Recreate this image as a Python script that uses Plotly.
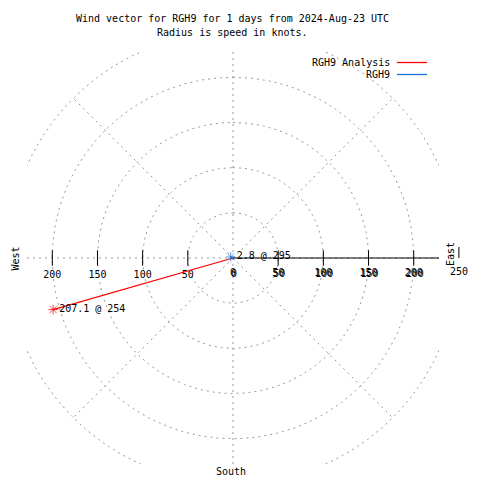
import numpy as np
import plotly.graph_objects as go

# ---- data ----
series_names = ["RGH9 Analysis", "RGH9"]
series_colors = ["#ff0000", "#1a75d8"]
speeds = [207.1, 2.8]          # knots
directions = [254, 295]        # degrees, compass
grid_radii = [50, 100, 150, 200, 250]
grid_angles = [0, 45, 90, 135, 180, 225, 270, 315]
left_ticks = [200, 150, 100, 50]
right_ticks = [0, 50, 100, 150, 200]
outer_tick = 250
title_lines = ["Wind vector for RGH9 for 1 days from 2024-Aug-23 UTC",
               "Radius is speed in knots."]

# ---- layout geometry (page pixels; page body has an 8px margin) ----
OFF = 8
W = H = 480 - OFF
L, R, T, B = 27, 439, 52, 464
RMAX = 228
scale = (R - L) / 2 / RMAX          # px per knot
CX, CY = (L + R) / 2, (T + B) / 2
FONT = "DejaVu Sans Mono"
GRID = "#999999"

def xp(px):
    return (px - L) / (R - L)

def yp(py):
    return (B - py) / (B - T)

fig = go.Figure()

# grid circles
theta = np.linspace(0, 2 * np.pi, 721)
cx, cy = [], []
for r in grid_radii:
    cx += list(r * np.sin(theta)) + [None]
    cy += list(r * np.cos(theta)) + [None]
fig.add_trace(go.Scatter(x=cx, y=cy, mode="lines",
                         line=dict(color=GRID, width=1, dash="2px,4px"),
                         hoverinfo="skip"))
# radial grid lines (up to outer circle)
rmax_grid = max(grid_radii)
rx, ry = [], []
for a in grid_angles:
    ar = np.radians(a)
    rx += [0, rmax_grid * np.sin(ar), None]
    ry += [0, rmax_grid * np.cos(ar), None]
fig.add_trace(go.Scatter(x=rx, y=ry, mode="lines",
                         line=dict(color=GRID, width=1, dash="2px,4px"),
                         hoverinfo="skip"))

# radial axis (solid, to the right)
fig.add_trace(go.Scatter(x=[0, RMAX], y=[0, 0], mode="lines",
                         line=dict(color="black", width=1), hoverinfo="skip"))
# tick marks
tx = [-t for t in left_ticks] + [t for t in right_ticks[1:]]
fig.add_trace(go.Scatter(x=tx, y=[0] * len(tx), mode="markers",
                         marker=dict(symbol="line-ns", size=11,
                                     line=dict(color="black", width=1)),
                         hoverinfo="skip"))

# tick labels
fig.add_trace(go.Scatter(x=[-t for t in left_ticks], y=[-17.5 / scale] * len(left_ticks),
                         mode="text", text=[str(t) for t in left_ticks],
                         textfont=dict(family=FONT, size=10, color="black"),
                         cliponaxis=False, hoverinfo="skip"))
fig.add_trace(go.Scatter(x=right_ticks, y=[-15 / scale] * len(right_ticks),
                         mode="text", text=[str(t) for t in right_ticks],
                         textfont=dict(family=FONT, size=10, color="black"),
                         cliponaxis=False, hoverinfo="skip"))
fig.add_trace(go.Scatter(x=[t + 1 / scale for t in right_ticks],
                         y=[-16.5 / scale] * len(right_ticks),
                         mode="text", text=[str(t) for t in right_ticks],
                         textfont=dict(family=FONT, size=10, color="black"),
                         cliponaxis=False, hoverinfo="skip"))

# data vectors
for name, col, s, d in zip(series_names, series_colors, speeds, directions):
    dr = np.radians(d)
    fig.add_trace(go.Scatter(
        x=[0, s * np.sin(dr)], y=[0, s * np.cos(dr)],
        mode="lines+markers+text", name=name,
        line=dict(color=col, width=1.3),
        marker=dict(symbol="asterisk-open", size=[0, 8],
                    line=dict(color=col, width=1)),
        text=["", f"{s} @ {d}"], textposition="middle right",
        textfont=dict(family=FONT, size=10, color="black"),
        cliponaxis=False))

annotations = []
shapes = []
# outer tick (beyond plot area)
ox = CX + outer_tick * scale
annotations.append(dict(x=xp(ox), y=yp(CY + 13), xref="paper", yref="paper",
                        text=str(outer_tick), showarrow=False, xanchor="center", yanchor="middle",
                        font=dict(family=FONT, size=10, color="black")))
shapes.append(dict(type="line", xref="paper", yref="paper",
                   x0=xp(ox), x1=xp(ox), y0=yp(CY - 11), y1=yp(CY),
                   line=dict(color="black", width=1)))

for i, line in enumerate(title_lines):
    annotations.append(dict(x=xp(232), y=yp(19 + 13 * i), xref="paper", yref="paper",
                            text=line, showarrow=False, xanchor="center", yanchor="middle",
                            font=dict(family=FONT, size=10, color="black")))
# legend
leg_y = [63, 75]
for name, col, ly in zip(series_names, series_colors, leg_y):
    annotations.append(dict(x=xp(392), y=yp(ly), xref="paper", yref="paper",
                            text=name, showarrow=False, xanchor="right", yanchor="middle",
                            font=dict(family=FONT, size=10, color="black")))
    shapes.append(dict(type="line", xref="paper", yref="paper",
                       x0=xp(397), x1=xp(427), y0=yp(ly - 0.5), y1=yp(ly - 0.5),
                       line=dict(color=col, width=1.3)))
# compass labels
annotations.append(dict(x=xp(14.5), y=yp(259), xref="paper", yref="paper", text="West",
                        textangle=-90, showarrow=False, xanchor="center", yanchor="middle",
                        font=dict(family=FONT, size=10, color="black")))
annotations.append(dict(x=xp(450), y=yp(254), xref="paper", yref="paper", text="East",
                        textangle=-90, showarrow=False, xanchor="center", yanchor="middle",
                        font=dict(family=FONT, size=10, color="black")))
annotations.append(dict(x=xp(231), y=yp(471), xref="paper", yref="paper", text="South",
                        showarrow=False, xanchor="center", yanchor="middle",
                        font=dict(family=FONT, size=10, color="black")))

fig.update_layout(
    width=W, height=H, autosize=False,
    margin=dict(l=L - OFF, r=480 - R, t=T - OFF, b=480 - B, pad=0),
    plot_bgcolor="white", paper_bgcolor="white",
    showlegend=False,
    xaxis=dict(range=[-RMAX, RMAX], visible=False, fixedrange=True),
    yaxis=dict(range=[-RMAX, RMAX], visible=False, fixedrange=True),
    annotations=annotations, shapes=shapes,
)

fig.write_html("out.html")
